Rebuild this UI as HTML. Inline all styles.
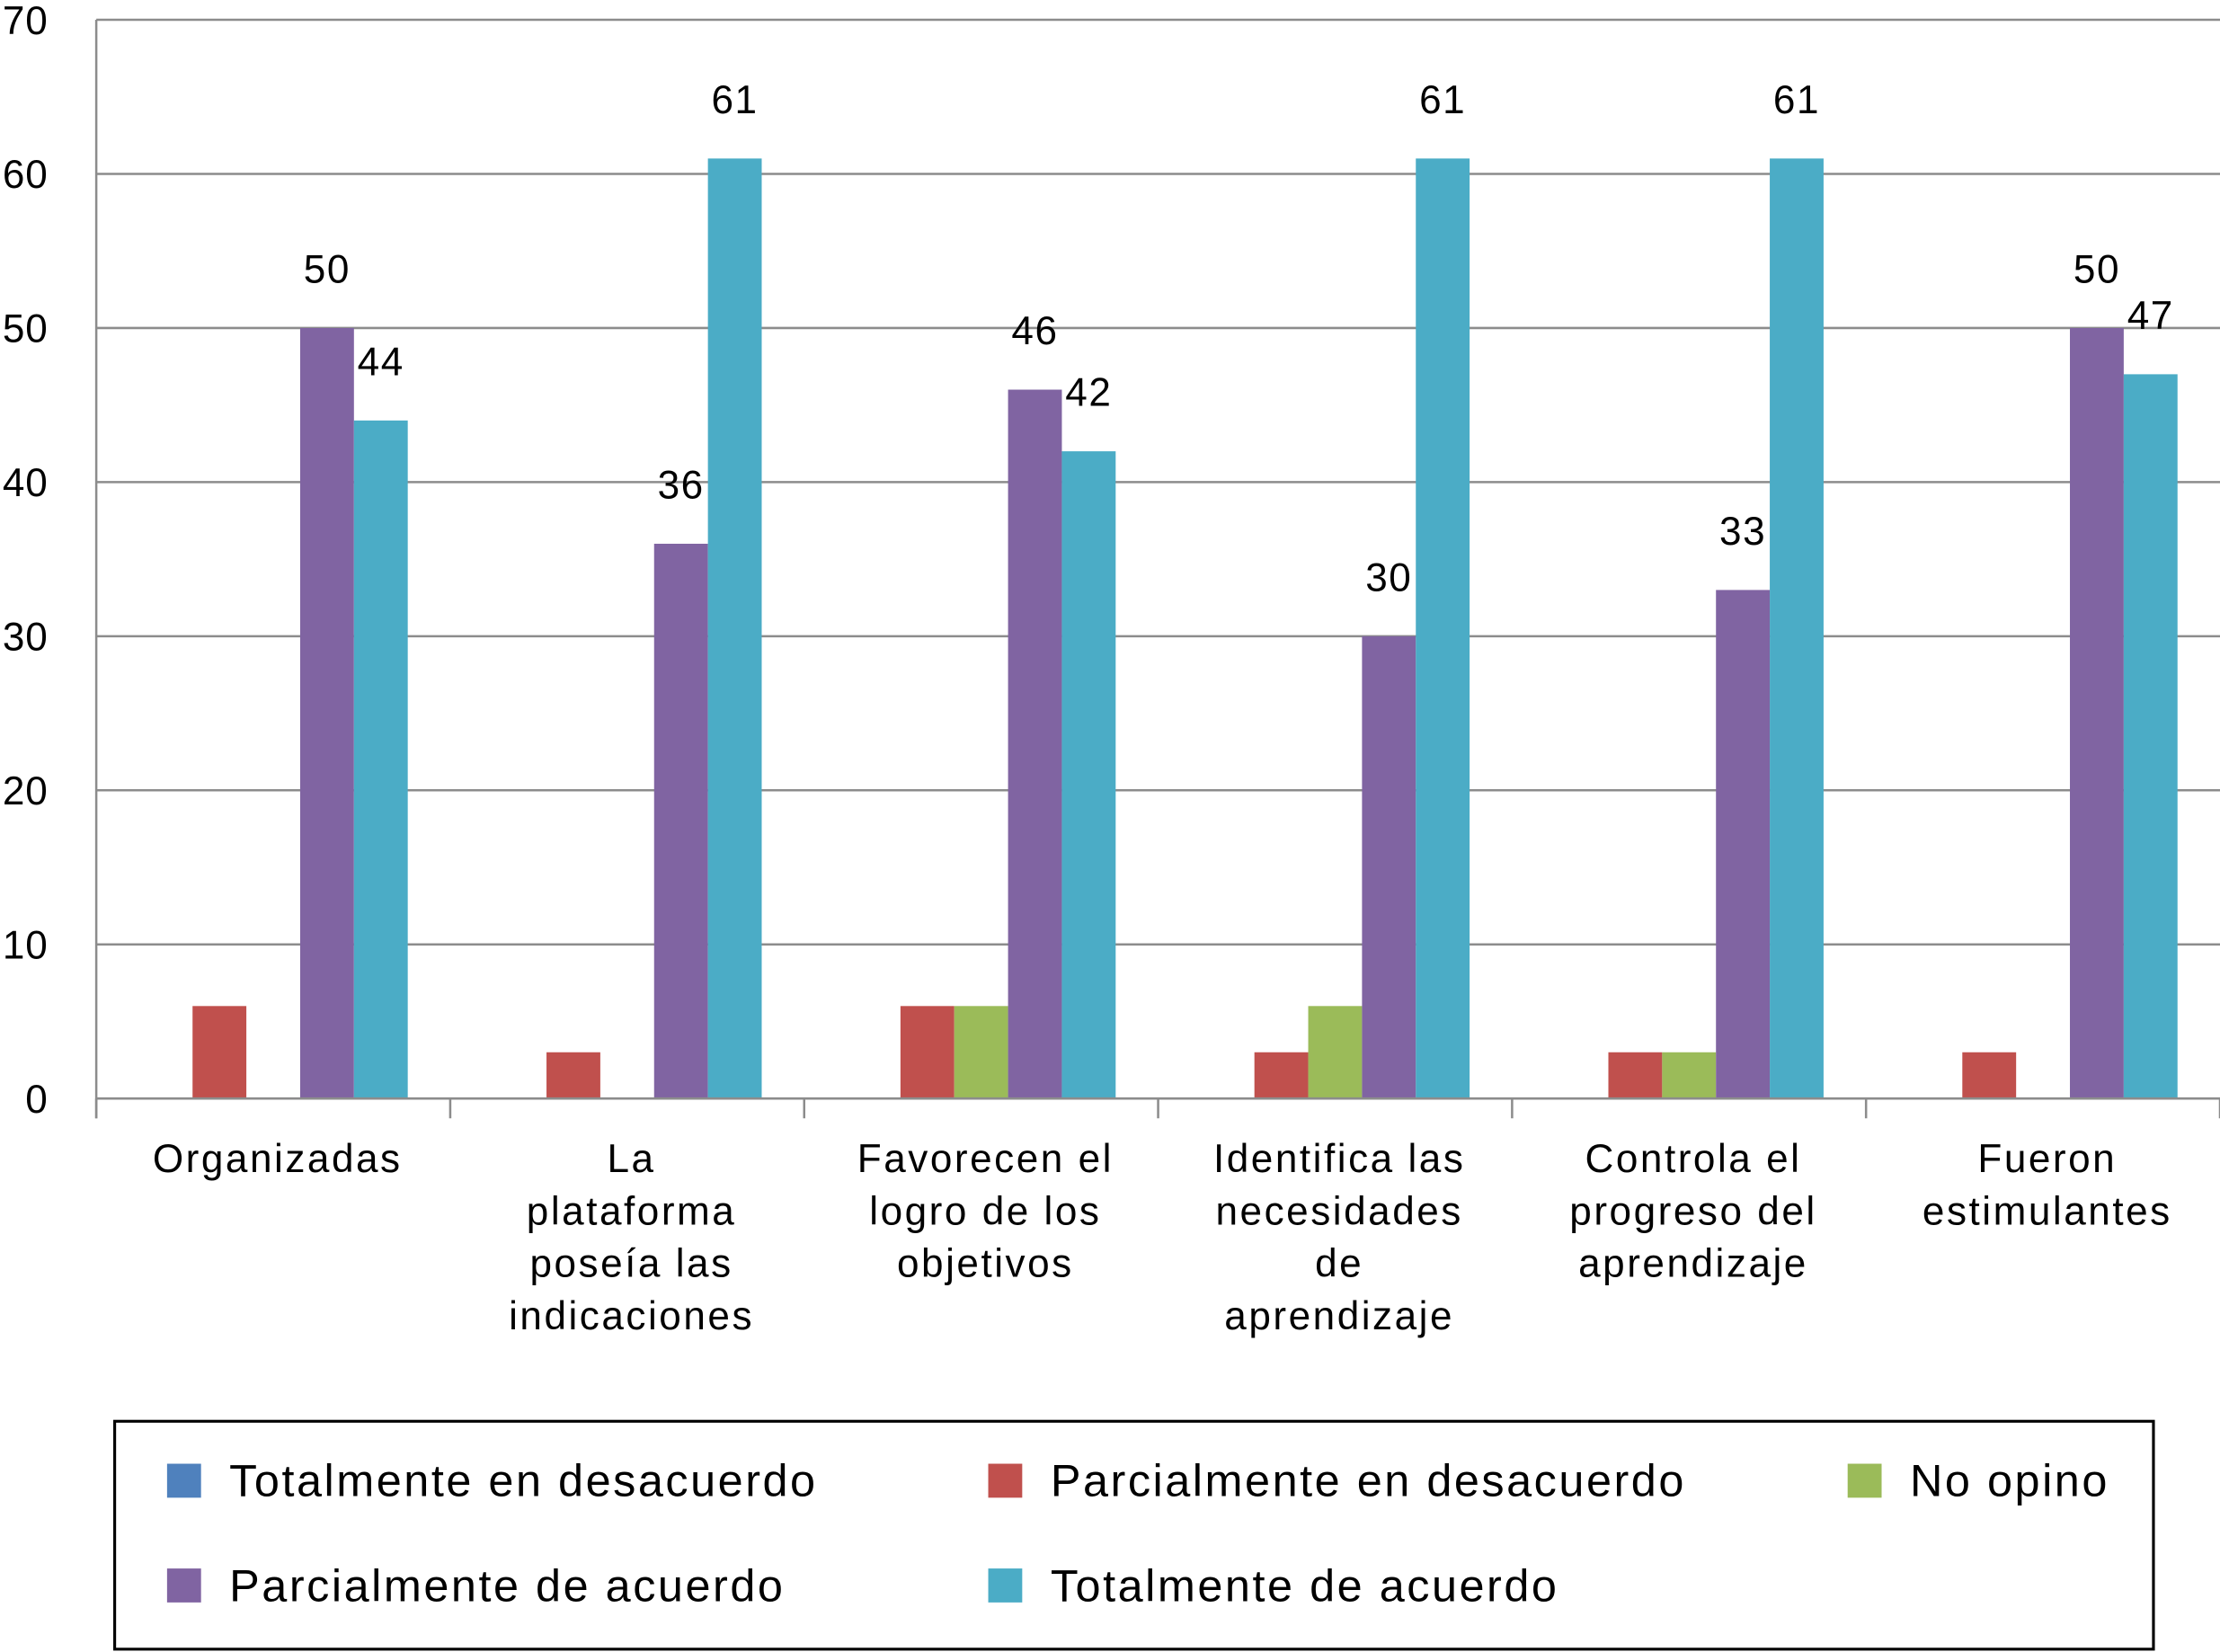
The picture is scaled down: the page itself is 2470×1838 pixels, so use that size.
<!DOCTYPE html>
<html><head><meta charset="utf-8"><style>
html,body{margin:0;padding:0;background:#fff;}
svg{display:block;font-family:"Liberation Sans",Arial,sans-serif;}
</style></head><body>
<svg id="chart" width="2470" height="1838" viewBox="0 0 1568 1167" preserveAspectRatio="none" xmlns="http://www.w3.org/2000/svg">
<g id="grid"></g>
<g id="bars"></g>
<g id="labels"></g>
<g id="axes"></g>
<g id="legend"></g>
</svg>
<script>
const categories = [["Organizadas"],["La","plataforma","poseía las","indicaciones"],["Favorecen el","logro de los","objetivos"],["Identifica las","necesidades","de","aprendizaje"],["Controla el","progreso del","aprendizaje"],["Fueron","estimulantes"]];
const seriesNames = ["Totalmente en desacuerdo","Parcialmente en desacuerdo","No opino","Parcialmente de acuerdo","Totalmente de acuerdo"];
const totalDes = [0,0,0,0,0,0];
const parcialDes = [6,3,6,3,3,3];
const noOpino = [0,0,6,6,3,0];
const parcialAc = [50,36,46,30,33,50];
const totalAc = [44,61,42,61,61,47];
const yTicks = [0,10,20,30,40,50,60,70];
const labelSeries = [3,4];

const colors = ["#4f81bd","#c0504d","#9bbb59","#8064a2","#4bacc6"];
const series = [totalDes,parcialDes,noOpino,parcialAc,totalAc];
const NS="http://www.w3.org/2000/svg";
const x0=68,x1=1568,yBase=776,yTop=14,yMax=70;
const gw=(x1-x0)/categories.length, bw=38, pad=(gw-5*bw)/2;
const y=v=>yBase-(v/yMax)*(yBase-yTop);
function mk(tag,attrs,parent,text){const e=document.createElementNS(NS,tag);for(const k in attrs)e.setAttribute(k,attrs[k]);if(text!==undefined)e.textContent=text;parent.appendChild(e);return e;}
const grid=document.getElementById('grid'),bars=document.getElementById('bars'),labels=document.getElementById('labels'),axes=document.getElementById('axes'),legend=document.getElementById('legend');
yTicks.forEach(t=>{
  if(t>0){const l=mk('line',{x1:x0,x2:x1,y1:y(t),y2:y(t),stroke:'#8c8c8c','stroke-width':1.6},grid);
  
  }
  const tx=mk('text',{x:34,y:y(t)+10,'text-anchor':'end','font-size':28,'letter-spacing':0.5,fill:'#000'},axes,String(t));
  
  
});
series.forEach((s,si)=>{
  s.forEach((v,ci)=>{
    if(v<=0)return;
    const bx=x0+ci*gw+pad+si*bw;
    const r=mk('rect',{x:bx,y:y(v),width:bw,height:yBase-y(v),fill:colors[si]},bars);
    
    
    if(labelSeries.includes(si)){
      const t=mk('text',{x:bx+bw/2,y:y(v)-32,'text-anchor':'middle','font-size':28,'letter-spacing':1,fill:'#000'},labels,String(v));
      
      
    }
  });
});
mk('line',{x1:x0,x2:x0,y1:yTop,y2:yBase+14,stroke:'#8c8c8c','stroke-width':1.6},axes);
mk('line',{x1:x0,x2:x1,y1:yBase,y2:yBase,stroke:'#8c8c8c','stroke-width':1.6},axes);
for(let i=0;i<=categories.length;i++){
  mk('line',{x1:x0+i*gw,x2:x0+i*gw,y1:yBase,y2:yBase+14,stroke:'#8c8c8c','stroke-width':1.6},axes);
}
categories.forEach((lines,ci)=>{
  const t=mk('text',{'text-anchor':'middle','font-size':28,'letter-spacing':1.6,fill:'#000'},axes);
  
  
  lines.forEach((ln,li)=>mk('tspan',{x:x0+ci*gw+gw/2+3,y:828+li*37},t,ln));
});
const box=mk('rect',{x:81,y:1004,width:1440,height:161,fill:'none',stroke:'#000','stroke-width':2},legend);


const lpos=[[118,1046],[698,1046],[1305,1046],[118,1120],[698,1120]];
seriesNames.forEach((n,i)=>{
  const g=mk('g',{},legend);
  
  
  mk('rect',{x:lpos[i][0],y:lpos[i][1]-12,width:24,height:24,fill:colors[i]},g);
  mk('text',{x:lpos[i][0]+44,y:lpos[i][1]+11,'font-size':32,'letter-spacing':1.6,fill:'#000'},g,n);
});
</script>
</body></html>
